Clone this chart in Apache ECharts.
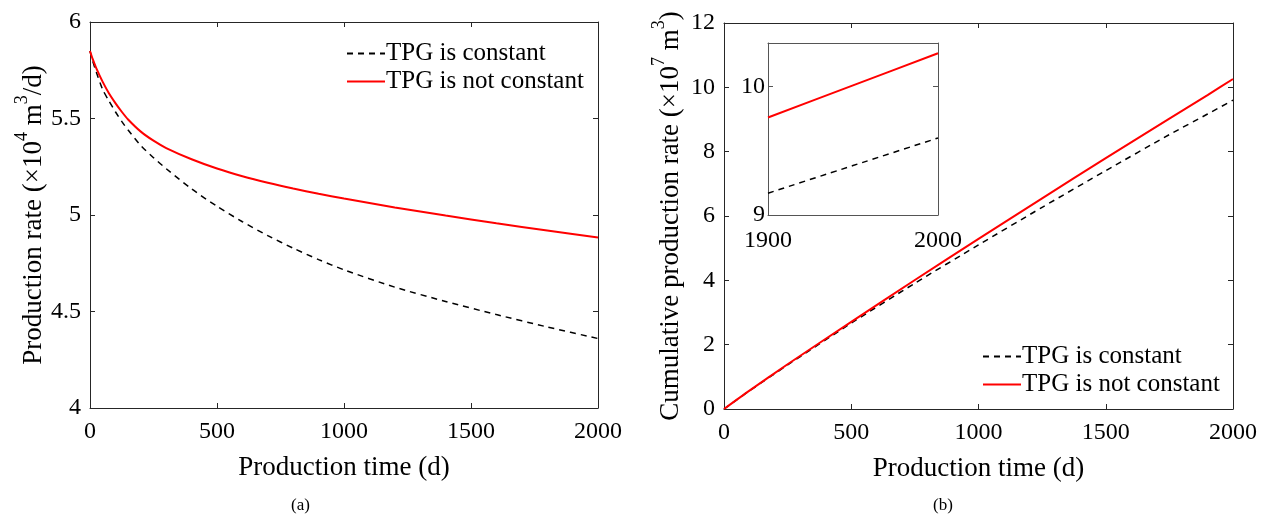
<!DOCTYPE html>
<head>
    <meta charset="utf-8">
    <title>TPG production</title>
    <script src="https://cdn.jsdelivr.net/npm/echarts@6/dist/echarts.min.js"></script>
    <style>
        body { margin: 0; background: #fff; }
        #chart { width: 1268px; height: 521px; }
    </style>
</head>

<body>
    <div id="chart"></div>
    <script>
        // (a) production rate, x10^4 m3/d
        var rateTime = [0, 10, 25, 50, 75, 100, 125, 150, 200, 250, 300, 400, 500, 600, 700, 800, 900, 1000, 1200, 1400, 1600, 1800, 2000];
        var rateConst = [5.85, 5.80, 5.74, 5.65, 5.59, 5.535, 5.485, 5.44, 5.36, 5.297, 5.24, 5.135, 5.045, 4.965, 4.893, 4.828, 4.769, 4.716, 4.626, 4.552, 4.484, 4.42, 4.36];
        var rateVar = [5.85, 5.81, 5.76, 5.69, 5.63, 5.58, 5.535, 5.495, 5.432, 5.385, 5.347, 5.289, 5.241, 5.201, 5.167, 5.137, 5.11, 5.085, 5.039, 4.997, 4.957, 4.92, 4.884];

        // (b) cumulative production, x10^7 m3
        var cumTime = [0, 100, 250, 500, 750, 1000, 1250, 1500, 1750, 1900, 2000];
        var cumConst = [0, 0.564, 1.37, 2.67, 3.91, 5.10, 6.27, 7.41, 8.53, 9.17, 9.60];
        var cumVar = [0, 0.57, 1.39, 2.71, 4.01, 5.29, 6.55, 7.80, 9.03, 9.76, 10.26];

        // inset of (b)
        var insetTime = [1900, 1950, 2000];
        var insetConst = [9.17, 9.385, 9.60];
        var insetVar = [9.76, 10.01, 10.26];

        var names = ['TPG is constant', 'TPG is not constant'];
        var font = 'Liberation Serif';
        var ink = '#262626';

        function pairs(xs, ys) {
            return xs.map(function(x, i) { return [x, ys[i]]; });
        }
        function plain(v) { return String(v); }

        var nameRich = {
            t: { fontFamily: font, fontSize: 27, color: '#000', verticalAlign: 'bottom', lineHeight: 34 },
            s: { fontFamily: font, fontSize: 18, color: '#000', verticalAlign: 'top', lineHeight: 34 }
        };

        function xAx(grid, min, max, interval, opts) {
            var c = opts.line || ink;
            var main = {
                type: 'value', gridIndex: grid, min: min, max: max, interval: interval,
                position: 'bottom',
                axisLine: { show: true, onZero: false, lineStyle: { color: c, width: 1 } },
                axisTick: { show: true, inside: true, length: 5, lineStyle: { color: c } },
                axisLabel: { show: true, fontFamily: font, fontSize: 24, color: '#000', margin: opts.margin || 12, formatter: plain },
                splitLine: { show: false }
            };
            if (opts.name) {
                main.name = opts.name;
                main.nameLocation = 'middle';
                main.nameGap = 46;
                main.nameTextStyle = { fontFamily: font, fontSize: 27, color: '#000' };
            }
            var top = {
                type: 'value', gridIndex: grid, min: min, max: max, interval: interval,
                position: 'top',
                axisLine: { show: true, onZero: false, lineStyle: { color: c, width: 1 } },
                axisTick: { show: true, inside: true, length: 5, lineStyle: { color: c } },
                axisLabel: { show: false },
                splitLine: { show: false }
            };
            return [main, top];
        }

        function yAx(grid, min, max, interval, opts) {
            var c = opts.line || ink;
            var main = {
                type: 'value', gridIndex: grid, min: min, max: max, interval: interval,
                position: 'left',
                axisLine: { show: true, onZero: false, lineStyle: { color: c, width: 1 } },
                axisTick: { show: true, inside: true, length: 5, lineStyle: { color: c } },
                axisLabel: { show: true, fontFamily: font, fontSize: 24, color: '#000', margin: opts.margin || 9,
                    formatter: plain, showMaxLabel: opts.hideMax ? false : true },
                splitLine: { show: false }
            };
            if (opts.name) {
                main.name = opts.name;
                main.nameLocation = 'middle';
                main.nameGap = opts.gap;
                main.nameTextStyle = { rich: nameRich };
            }
            var right = {
                type: 'value', gridIndex: grid, min: min, max: max, interval: interval,
                position: 'right',
                axisLine: { show: true, onZero: false, lineStyle: { color: c, width: 1 } },
                axisTick: { show: true, inside: true, length: 5, lineStyle: { color: c } },
                axisLabel: { show: false },
                splitLine: { show: false }
            };
            return [main, right];
        }

        var xAxes = [].concat(
            xAx(0, 0, 2000, 500, { name: 'Production time (d)' }),
            xAx(1, 0, 2000, 500, { name: 'Production time (d)' }),
            xAx(2, 1900, 2000, 100, { line: '#555', margin: 14 })
        );
        var yAxes = [].concat(
            yAx(0, 4, 6, 0.5, { name: '{t|Production rate (×10}{s|4}{t| m}{s|3}{t|/d)}', gap: 42 }),
            yAx(1, 0, 12, 2, { name: '{t|Cumulative production rate (×10}{s|7}{t| m}{s|3}{t|)}', gap: 40 }),
            yAx(2, 9, 10.34, 1, { line: '#555', margin: 3, hideMax: true })
        );

        function line(name, x, y, data, dashed) {
            return {
                name: name, type: 'line', xAxisIndex: x, yAxisIndex: y,
                data: data, showSymbol: false, symbol: 'none',
                smooth: 0.25, silent: true,
                lineStyle: dashed ? { color: '#000', width: 1.5, type: [6, 5] } : { color: '#ff0000', width: 2 },
                itemStyle: { color: dashed ? '#000' : '#ff0000' }
            };
        }

        var legendBase = {
            orient: 'vertical', itemWidth: 38, itemHeight: 14, itemGap: 3,
            itemStyle: { opacity: 0 },
            textStyle: { fontFamily: font, fontSize: 25, color: '#000', padding: [0, 0, 0, -4] },
            data: names, selectedMode: false
        };

        var chart = echarts.init(document.getElementById('chart'), null, { renderer: 'canvas' });
        chart.setOption({
            backgroundColor: '#fff',
            animation: false,
            grid: [
                { left: 90, top: 22, width: 508, height: 386 },
                { left: 724, top: 23, width: 509, height: 386 },
                { left: 768, top: 43, width: 170, height: 172 }
            ],
            legend: [
                Object.assign({}, legendBase, { left: 341, top: 36 }),
                Object.assign({}, legendBase, { left: 977, top: 339 })
            ],
            xAxis: xAxes,
            yAxis: yAxes,
            series: [
                line(names[0], 0, 0, pairs(rateTime, rateConst), true),
                line(names[1], 0, 0, pairs(rateTime, rateVar), false),
                line(names[0], 2, 2, pairs(cumTime, cumConst), true),
                line(names[1], 2, 2, pairs(cumTime, cumVar), false),
                line(names[0], 4, 4, pairs(insetTime, insetConst), true),
                line(names[1], 4, 4, pairs(insetTime, insetVar), false)
            ],
            graphic: [
                { type: 'text', left: 291, top: 497, style: { text: '(a)', font: '17px "Liberation Serif"', fill: '#000' } },
                { type: 'text', left: 933, top: 497, style: { text: '(b)', font: '17px "Liberation Serif"', fill: '#000' } }
            ]
        });
    </script>
</body>
